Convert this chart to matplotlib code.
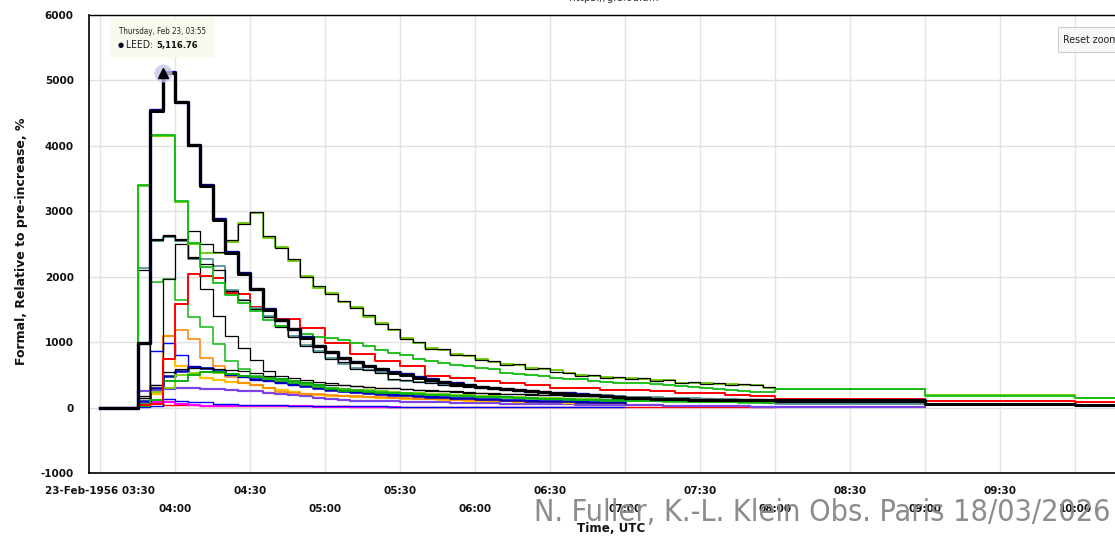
import os
import numpy as np
import pandas as pd
import matplotlib
matplotlib.use("Agg")
from matplotlib import pyplot as plt
from matplotlib import dates as mdates
from matplotlib import font_manager as fm
from matplotlib.patches import Rectangle

# 5-minute samples from 03:30 to 08:00, then hourly points after 08:00
t5 = pd.date_range("1956-02-23 03:30", periods=55, freq="5min")
t_tail = pd.to_datetime(["1956-02-23 09:00", "1956-02-23 10:00", "1956-02-23 10:30"])

leed = [0, 0, 0, 980, 4537, 5117, 4666, 4012, 3389, 2868,
        2369, 2047, 1807, 1490, 1335, 1195, 1067, 940, 847, 760,
        694, 630, 582, 531, 505, 454, 429, 388, 367, 342,
        317, 301, 286, 265, 250, 240, 225, 212, 199, 186,
        173, 160, 148, 140, 135, 130, 126, 122, 118, 116,
        114, 112, 112, 112, 112]
leed_tail = [60, 40, 40]

leed_navy = [0, 0, 0, 985, 4545, 5125, 4672, 4018, 3396, 2880,
             2375, 2050, 1815, 1500, 1340, 1200, 1072, 945, 850, 765,
             700, 636, 588, 540, 512, 460, 434, 392, 372, 346,
             322, 305, 290, 270, 255, 244, 230, 216, 204, 192,
             178, 166, 152]

green_a = [0, 0, 0, 3400, 4165, 4165, 3150, 2508, 2149, 1909,
           1720, 1600, 1475, 1332, 1245, 1200, 1118, 1082, 1060, 1040,
           980, 940, 878, 827, 800, 750, 709, 680, 648, 630,
           610, 582, 531, 520, 505, 490, 454, 440, 430, 403,
           395, 380, 378, 370, 360, 340, 325, 310, 300, 280,
           270, 255, 245, 235, 280]
green_a_tail = [180, 150, 150]

lime = [0, 0, 0, 3380, 4150, 4150, 3140, 2500, 2360, 2368,
        2532, 2828, 2981, 2598, 2450, 2235, 2005, 1833, 1756, 1618,
        1542, 1389, 1286, 1179, 1067, 980, 914, 878, 822, 786,
        746, 700, 669, 648, 608, 593, 567, 521, 495, 480,
        464, 454, 454, 441, 418, 418, 383, 378, 373, 362,
        357, 352, 347, 301, 291]
lime_tail = [189, 153, 153]

black_1 = [0, 0, 0, 150, 2573, 2634, 2573, 2700, 2496, 2380,
           2555, 2810, 2990, 2625, 2440, 2265, 1990, 1860, 1740, 1635,
           1525, 1410, 1270, 1200, 1050, 995, 895, 890, 805, 800,
           730, 715, 652, 662, 590, 605, 550, 533, 480, 492,
           450, 462, 440, 448, 410, 428, 376, 386, 366, 370,
           347, 360, 338, 310, 296]

teal = [0, 0, 0, 2139, 2550, 2610, 2550, 2277, 2270, 2164,
        1800, 1650, 1520, 1400, 1250, 1100, 950, 860, 760, 669,
        600, 575, 540, 429, 410, 390, 370, 350, 330, 318,
        305, 290, 275, 265, 250, 238, 226, 215, 205, 195,
        185, 175, 168, 160, 155, 150, 145, 140, 135, 130,
        126, 122, 118, 115, 62]
teal_tail = [46, 40, 40]

black_2 = [0, 0, 0, 2100, 2560, 2624, 2560, 2290, 2200, 2100,
           1780, 1640, 1500, 1380, 1230, 1080, 935, 850, 745, 690,
           594, 572, 531, 440, 415, 395, 372, 348, 335, 322,
           308, 294, 278, 262, 248, 236, 224, 214, 203, 193,
           184, 174, 166, 158, 152, 147, 142, 137, 132, 127,
           123, 119, 115, 112, 87]
black_2_tail = [55, 45, 45]

red = [0, 0, 0, 40, 50, 735, 1577, 2036, 2011, 1986,
       1756, 1730, 1542, 1500, 1348, 1348, 1220, 1220, 980, 980,
       822, 822, 709, 709, 633, 633, 490, 490, 454, 454,
       403, 403, 378, 378, 352, 352, 301, 301, 296, 296,
       276, 276, 276, 276, 250, 250, 225, 225, 220, 220,
       188, 188, 173, 173, 133]
red_tail = [97, 82, 82]

black_3 = [0, 0, 0, 170, 350, 1960, 2496, 2300, 1807, 1400,
           1092, 914, 720, 556, 480, 445, 415, 390, 370, 352,
           335, 320, 305, 292, 280, 268, 257, 247, 238, 230,
           222, 215, 208, 202, 196, 190, 185, 180, 175, 170,
           166, 162, 158, 154, 150, 147, 144, 141, 138, 135,
           132, 129, 126, 123, 120]

green_2 = [0, 0, 0, 50, 1919, 1971, 1638, 1383, 1236, 965,
           709, 582, 480, 440, 400, 370, 345, 320, 300, 285,
           270, 255, 240, 228, 216, 205, 195, 186, 178, 170,
           163, 156, 150, 144, 138, 132, 127, 122, 117, 112,
           108, 104, 100, 97, 94, 91, 88, 85, 82, 80,
           78, 76, 74, 72, 70]

green_3 = [0, 0, 0, 30, 120, 403, 403, 505, 546, 540,
           520, 490, 470, 450, 430, 400, 370, 340, 280, 260,
           250, 240, 230, 220, 212, 204, 196, 188, 180, 173,
           166, 160, 154, 148, 142, 137, 132, 127, 122, 118,
           114, 110, 106, 102, 99, 96, 93, 90, 87, 84,
           82, 80, 78, 76, 74]

lime_2 = [0, 0, 0, 30, 240, 300, 505, 531, 546, 530,
          510, 485, 460, 440, 415, 390, 360, 330, 305, 285,
          272, 262, 250, 240, 230, 220, 210, 202, 194, 186,
          178, 171, 164, 158, 152, 146, 140, 135, 130, 126,
          122, 118, 114]

orange = [0, 0, 0, 20, 300, 1092, 1179, 1041, 761, 633,
          464, 378, 352, 301, 240, 225, 210, 200, 190, 180,
          172, 165, 158, 150, 144, 138, 132, 126, 120, 115,
          110, 106, 102, 98, 94, 90, 86, 82, 78, 75,
          72, 70, 68]

yellow = [0, 0, 0, 20, 200, 1100, 640, 520, 455, 420,
          390, 370, 352, 300, 262, 235, 210, 190, 180, 173,
          165, 158, 150, 143, 136, 130, 124, 118, 112, 107,
          102, 97, 93, 89, 85, 81, 78, 75, 72, 69,
          66, 63, 60]

blue = [0, 0, 0, 20, 862, 990, 801, 640, 608, 540,
        505, 470, 429, 400, 380, 352, 330, 300, 280, 250,
        240, 225, 210, 200, 190, 180, 170, 160, 150, 140,
        135, 128, 122, 118, 112, 108, 104, 100, 95, 90,
        86, 82, 80]

black_4 = [0, 0, 0, 150, 350, 540, 582, 600, 610, 590,
           575, 560, 530, 480, 440, 410, 385, 365, 348, 340,
           330, 318, 305, 295, 285, 275, 265, 255, 246, 238,
           230, 222, 215, 208, 202, 196, 190, 185, 180, 175,
           170, 166, 162, 158, 154, 150, 146, 143, 140, 137,
           134, 131, 128, 125, 87]
black_4_tail = [55, 45, 45]

navy = [0, 0, 0, 100, 300, 480, 560, 623, 610, 560,
        520, 480, 440, 420, 390, 360, 330, 300, 275, 250,
        235, 220, 205, 195, 185, 175, 165, 155, 148, 140,
        133, 126, 120, 114, 108, 103, 98, 94, 90, 86,
        82, 79, 76]

purple = [0, 0, 0, 250, 260, 280, 300, 300, 290, 280,
          270, 260, 250, 230, 210, 190, 173, 150, 130, 115,
          105, 100, 97, 95, 92, 90, 85, 80, 76, 72,
          68, 65, 62, 58, 55, 52, 50, 48, 45, 42,
          40, 38, 36, 34, 32, 30, 28, 26, 24, 22,
          20, 18, 16, 14, 12]
purple_tail = [10]

magenta = [0, 0, 0, 60, 90, 80, 50, 40, 31, 31,
           30, 28, 26, 24, 22, 20, 18, 16, 14, 12,
           10, 9, 8, 7, 6]

blue_2 = [0, 0, 0, 10, 30, 138, 103, 92, 80, 60,
          50, 45, 40, 36, 32, 30, 28, 26, 24, 22,
          20, 18, 17, 16, 15, 14, 13, 12, 11, 10,
          10, 9, 9, 8, 8, 7, 7, 6, 6, 5,
          5, 5, 5]

red_2 = [0, 0, 0, 72, 72, 46, 40, 35, 30, 28,
         26, 24, 22, 20, 20, 20, 19, 18, 18, 17,
         16, 16, 15, 15, 14, 14, 13, 13, 12, 12,
         12, 11, 11, 11, 10, 10, 10, 10, 10, 10,
         10, 10, 10, 10, 10, 10, 10, 10, 10, 10,
         10, 10, 10, 10, 10]

y_ticks = [-1000, 0, 1000, 2000, 3000, 4000, 5000, 6000]
row1_ticks = pd.date_range("1956-02-23 03:30", "1956-02-23 09:30", freq="60min")
row2_ticks = pd.date_range("1956-02-23 04:00", "1956-02-23 10:00", freq="60min")
row1_labels = ["23-Feb-1956 03:30"] + [t.strftime("%H:%M") for t in row1_ticks[1:]]
row2_labels = [t.strftime("%H:%M") for t in row2_ticks]

W, H = 1115, 539


def narrow_font(bold=False):
    # look for a condensed / narrow face among the installed fonts
    best = None
    wmap = {"ultralight": 200, "light": 300, "normal": 400, "regular": 400, "book": 400,
            "medium": 500, "semibold": 600, "demibold": 600, "bold": 700, "heavy": 800, "black": 900}
    for f in fm.fontManager.ttflist:
        tag = (f.name + " " + os.path.basename(f.fname)).lower()
        if not ("condensed" in tag or "narrow" in tag or "cond" in tag):
            continue
        if f.style != "normal":
            continue
        w = f.weight if isinstance(f.weight, int) else wmap.get(str(f.weight).lower(), 400)
        score = abs(w - (700 if bold else 350))
        if best is None or score < best[0]:
            best = (score, f.fname)
    return best[1] if best else None


def fprop(bold=False, size=8):
    path = narrow_font(bold)
    if path:
        return fm.FontProperties(fname=path, size=size)
    return fm.FontProperties(family="DejaVu Sans", weight="bold" if bold else "normal", size=size)


def fit(txt, target_px, renderer):
    w = txt.get_window_extent(renderer).width
    if w > 0:
        txt.set_fontsize(txt.get_fontsize() * target_px / w)


def fx(px):
    return px / W


def fy(py):
    return 1 - py / H


fig = plt.figure(figsize=(W / 100, H / 100), dpi=100)
fig.patch.set_facecolor("white")
ax = fig.add_axes([fx(89), fy(473), fx(1125) - fx(89), fy(15) - fy(473)])

# drawing order: later entries sit on top
series = [
    (red_2, [], "#ff0000", 1.0),
    (magenta, [], "#ff00ff", 1.5),
    (purple, purple_tail, "#7b44e6", 1.6),
    (blue_2, [], "#0000ff", 1.0),
    (yellow, [], "#ffc000", 1.6),
    (orange, [], "#ff8000", 1.1),
    (blue, [], "#0000ff", 1.0),
    (navy, [], "#0000b4", 1.8),
    (black_4, black_4_tail, "black", 0.9),
    (lime_2, [], "#77d400", 1.3),
    (green_3, [], "#00aa00", 1.3),
    (green_2, [], "#11b811", 1.1),
    (black_3, [], "black", 0.9),
    (red, red_tail, "#ff0000", 1.4),
    (teal, teal_tail, "#5f9ea0", 1.4),
    (black_2, black_2_tail, "black", 0.9),
    (lime, lime_tail, "#66cc00", 1.3),
    (black_1, [], "black", 0.9),
    (green_a, green_a_tail, "#11bb11", 1.3),
    (leed_navy, [], "#00008b", 2.4),
    (leed, leed_tail, "black", 2.2),
]
for i, (vals, tail, col, lw) in enumerate(series):
    x = list(t5[:len(vals)]) + list(t_tail[:len(tail)])
    y = list(vals) + list(tail)
    ax.step(x, y, where="post", color=col, lw=lw, zorder=3 + i * 0.1)

# highlighted point (tooltip hover)
ax.plot(t5[5], leed[5], marker="o", ms=13, color="#c6c6ea", alpha=0.8, zorder=20, mec="none")
ax.plot(t5[5], leed[5], marker="^", ms=6.5, color="black", zorder=21)

ax.set_xlim(pd.Timestamp("1956-02-23 03:25:36"), pd.Timestamp("1956-02-23 10:20"))
ax.set_ylim(-1000, 6000)
ax.set_yticks(y_ticks)
ax.set_yticklabels([str(v) for v in y_ticks])
ax.set_xticks(mdates.date2num(row1_ticks))
ax.set_xticklabels(row1_labels)
ax.set_xticks(mdates.date2num(row2_ticks), minor=True)
ax.set_xticklabels(row2_labels, minor=True)
ax.tick_params(axis="both", which="both", length=0, labelsize=7.5, labelcolor="#111111")
ax.tick_params(axis="y", pad=11)
ax.tick_params(axis="x", which="major", pad=9)
ax.tick_params(axis="x", which="minor", pad=22)
for lab in ax.get_xticklabels(which="both") + ax.get_yticklabels():
    lab.set_fontweight("bold")

ax.grid(True, axis="x", which="both", color="#e4e4e4", lw=1.0)
ax.grid(True, axis="y", which="major", color="#e0e0e0", lw=1.0)
ax.set_axisbelow(True)
for s in ["left", "bottom", "top"]:
    ax.spines[s].set_color("black")
ax.spines["left"].set_linewidth(1.2)
ax.spines["bottom"].set_linewidth(1.2)
ax.spines["top"].set_linewidth(1.0)
ax.spines["right"].set_visible(False)

fig.text(fx(22), fy(241), "Formal, Relative to pre-increase, %", rotation=90,
         ha="center", va="center", fontsize=9, fontweight="bold", color="#111111")
fig.text(fx(611), fy(529), "Time, UTC", ha="center", va="center",
         fontsize=8.6, fontweight="bold", color="#111111")
fig.text(fx(614), fy(-2), "https://gle.oulu.fi", ha="center", va="center",
         fontsize=7.5, color="#333333")

# tooltip box
fig.add_artist(Rectangle((fx(110), fy(58)), fx(215) - fx(110), fy(18) - fy(58),
                         transform=fig.transFigure, fc="#f9f9ef", ec="none", alpha=0.95, zorder=40))
tt1 = fig.text(fx(119), fy(31), "Thursday, Feb 23, 03:55", ha="left", va="center",
               fontproperties=fprop(False, 7), color="#222222", zorder=41)
fig.text(fx(121), fy(45.5), "\u25cf", ha="center", va="center", fontsize=5,
         color="#000022", zorder=41)
tt2 = fig.text(fx(126), fy(45.5), "LEED: ", ha="left", va="center",
               fontproperties=fprop(False, 8), color="#222222", zorder=41)
tt3 = fig.text(fx(150), fy(45.5), "5,116.76", ha="left", va="center",
               fontproperties=fprop(True, 8), color="#111111", zorder=41)

# reset zoom button
fig.add_artist(Rectangle((fx(1058), fy(52)), fx(1130) - fx(1058), fy(27) - fy(52),
                         transform=fig.transFigure, fc="#f7f7f7", ec="#cccccc", lw=0.8, zorder=40))
rz = fig.text(fx(1063), fy(40), "Reset zoom", ha="left", va="center",
              fontproperties=fprop(False, 7), color="#222222", zorder=41)

wm = fig.text(fx(822), fy(521), "N. Fuller, K.-L. Klein Obs. Paris 18/03/2026",
              ha="center", va="baseline", fontproperties=fprop(False, 22),
              color="#8c8c8c", zorder=50)

fig.canvas.draw()
r = fig.canvas.get_renderer()
fit(tt1, 88, r)
fit(rz, 56, r)
fit(wm, 578, r)
fit(tt2, 30, r)
fit(tt3, 42, r)
fig.canvas.draw()
e2 = tt2.get_window_extent(r)
tt3.set_x(e2.x1 / W)

fig.savefig("out.png", dpi=100, facecolor="white")
